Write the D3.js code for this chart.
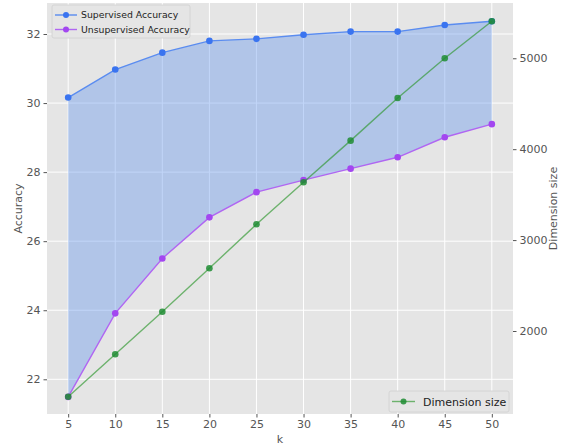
<!DOCTYPE html>
<html><head><meta charset="utf-8">
<script src="https://cdn.jsdelivr.net/npm/d3@7"></script>
<style>body{margin:0;background:#fff;} text{font-family:"DejaVu Sans",sans-serif;}</style>
</head><body><svg id="c" width="562" height="447"></svg>
<script>
const ks = [5,10,15,20,25,30,35,40,45,50];
const supervised = [30.16,30.97,31.46,31.80,31.86,31.98,32.07,32.07,32.26,32.37];
const unsupervised = [21.49,23.91,25.50,26.69,27.42,27.77,28.10,28.43,29.01,29.39];
const dimension = [1277,1744,2212,2690,3174,3636,4094,4563,5000,5407];
const xTicks = [5,10,15,20,25,30,35,40,45,50];
const yTicks = [22,24,26,28,30,32];
const y2Ticks = [2000,3000,4000,5000];

const svg = d3.select("#c");
const L=47, R=513, T=3, B=414;
const x = d3.scaleLinear().domain([2.75,52.25]).range([L,R]);
const y = d3.scaleLinear().domain([20.995,32.898]).range([B,T]);
const y2 = d3.scaleLinear().domain([1087,5608]).range([B,T]);

svg.append("rect").attr("x",L).attr("y",T).attr("width",R-L).attr("height",B-T).attr("fill","#e5e5e5");
const g = svg.append("g");
g.selectAll(".gx").data(xTicks).join("line").attr("x1",d=>x(d)).attr("x2",d=>x(d)).attr("y1",T).attr("y2",B).attr("stroke","#fff").attr("stroke-width",1);
g.selectAll(".gy").data(yTicks).join("line").attr("y1",d=>y(d)).attr("y2",d=>y(d)).attr("x1",L).attr("x2",R).attr("stroke","#fff").attr("stroke-width",1);

const tc="#555";
const ax = svg.append("g").attr("transform",`translate(0,${B})`).call(d3.axisBottom(x).tickValues(xTicks).tickSize(3.5).tickPadding(3));
const ay = svg.append("g").attr("transform",`translate(${L},0)`).call(d3.axisLeft(y).tickValues(yTicks).tickSize(3.5).tickPadding(3));
const ay2 = svg.append("g").attr("transform",`translate(${R},0)`).call(d3.axisRight(y2).tickValues(y2Ticks).tickFormat(d3.format("d")).tickSize(3.5).tickPadding(3));
[ax,ay,ay2].forEach(a=>{a.select(".domain").remove();a.selectAll("line").attr("stroke",tc);a.selectAll("text").attr("fill",tc).style("font-size","11px").style("font-family","DejaVu Sans");});

svg.append("text").attr("x",(L+R)/2).attr("y",443).attr("text-anchor","middle").attr("fill",tc).style("font-size","11px").text("k");
svg.append("text").attr("transform",`translate(22,${(T+B)/2}) rotate(-90)`).attr("text-anchor","middle").attr("fill",tc).style("font-size","11px").text("Accuracy");
svg.append("text").attr("transform",`translate(557,${(T+B)/2}) rotate(-90)`).attr("text-anchor","middle").attr("fill",tc).style("font-size","11px").text("Dimension size");

const data = ks.map((k,i)=>({k,s:supervised[i],u:unsupervised[i],d:dimension[i]}));
g.append("path").datum(data).attr("d",d3.area().x(d=>x(d.k)).y0(d=>y(d.u)).y1(d=>y(d.s))).attr("fill","#6495ed").attr("fill-opacity",0.4);

function series(acc, scale, lineC, dotC){
  g.append("path").datum(data).attr("d",d3.line().x(d=>x(d.k)).y(d=>scale(acc(d)))).attr("fill","none").attr("stroke",lineC).attr("stroke-width",1.4);
  g.selectAll(null).data(data).join("circle").attr("cx",d=>x(d.k)).attr("cy",d=>scale(acc(d))).attr("r",3.3).attr("fill",dotC);
}
series(d=>d.s,y,"#5a8cf0","#3a74f0");
series(d=>d.u,y,"#b066f2","#a347f0");
series(d=>d.d,y2,"rgba(44,150,44,0.65)","rgba(30,140,50,0.85)");

const lg = svg.append("g");
lg.append("rect").attr("x",52).attr("y",5).attr("width",138).attr("height",33).attr("rx",2).attr("fill","#e5e5e5").attr("stroke","#d0d0d0").attr("stroke-width",0.8);
[["Supervised Accuracy","#5a8cf0","#3a74f0",15],["Unsupervised Accuracy","#b066f2","#a347f0",29.5]].forEach(([t,lc,dc,yy])=>{
  lg.append("line").attr("x1",55).attr("x2",77).attr("y1",yy).attr("y2",yy).attr("stroke",lc).attr("stroke-width",1.4);
  lg.append("circle").attr("cx",66).attr("cy",yy).attr("r",3).attr("fill",dc);
  lg.append("text").attr("x",81).attr("y",yy+3.3).attr("fill","#222").style("font-size","9.3px").text(t);
});
const lg2 = svg.append("g");
lg2.append("rect").attr("x",389).attr("y",391).attr("width",120).attr("height",21).attr("rx",2).attr("fill","#e5e5e5").attr("stroke","#d0d0d0").attr("stroke-width",0.8);
lg2.append("line").attr("x1",392).attr("x2",415).attr("y1",401.5).attr("y2",401.5).attr("stroke","rgba(44,150,44,0.65)").attr("stroke-width",1.4);
lg2.append("circle").attr("cx",403.5).attr("cy",401.5).attr("r",3).attr("fill","rgba(30,140,50,0.85)");
lg2.append("text").attr("x",423).attr("y",405.5).attr("fill","#222").style("font-size","11px").text("Dimension size");
</script></body></html>
